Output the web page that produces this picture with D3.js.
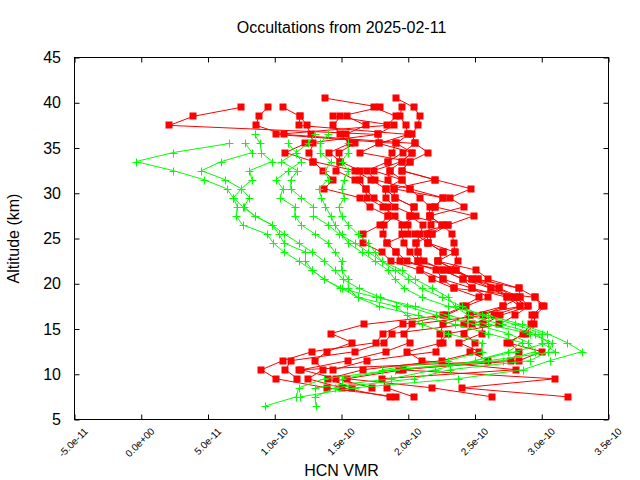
<!DOCTYPE html>
<html><head><meta charset="utf-8">
<script src="https://cdn.jsdelivr.net/npm/d3@7"></script>
<style>
html,body{margin:0;padding:0;background:#fff;}
text{font-family:"Liberation Sans",Arial,sans-serif;fill:#000;}
</style></head>
<body><svg id="chart" width="640" height="480"></svg>
<script>
// ---- data (VMR in units of 1e-10) ----
const titleText = "Occultations from 2025-02-11";
const xLabelText = "HCN VMR";
const yLabelText = "Altitude (km)";
const xTickValues = [-5e-11, 0, 5e-11, 1e-10, 1.5e-10, 2e-10, 2.5e-10, 3e-10, 3.5e-10];
const xTickLabels = ["-5.0e-11","0.0e+00","5.0e-11","1.0e-10","1.5e-10","2.0e-10","2.5e-10","3.0e-10","3.5e-10"];
const yTickValues = [5,10,15,20,25,30,35,40,45];
const yTickLabels = ["5","10","15","20","25","30","35","40","45"];
const unit = 1e-10;

const redAlt = [7.5,8.5,9.5,10.5,11.5,12.5,13.5,14.5,15.5,16.5,17.5,18.5,19.5,20.5,21.5,22.5,23.5,24.5,25.5,26.5,27.5,28.5,29.5,30.5,31.5,32.5,33.5,34.5,35.5,36.5,37.5,38.5,39.5,40.5];
const red0 = [1.86,1.50,1.25,1.36,1.30,1.39,1.58,1.42,1.67,2.26,2.41,2.53,2.34,2.18,2.09,1.87,1.80,1.66,1.66,1.79,1.85,1.71,1.64,1.37,1.44,1.36,1.29,1.08,1.23,1.77,0.21,0.39,0.75,null];
const red1 = [3.20,2.40,3.10,1.93,2.83,3.00,2.74,2.88,2.94,2.95,3.02,2.95,2.83,2.60,2.51,2.22,2.35,2.34,2.33,2.25,2.16,2.42,2.31,2.47,2.20,1.95,2.01,2.15,2.05,2.03,2.07,2.09,2.04,1.91];
const red2 = [2.04,1.84,1.80,2.81,2.10,1.99,2.26,2.24,2.26,2.46,2.71,2.74,2.48,2.41,2.26,2.12,2.07,2.06,2.09,2.11,2.01,2.04,1.90,1.89,1.85,1.86,1.85,1.88,1.91,1.01,1.84,1.91,1.74,null];
const red3 = [2.63,2.18,1.54,1.96,2.60,2.46,2.50,2.42,2.48,2.64,2.84,2.79,2.62,2.48,2.36,2.22,2.26,2.15,2.18,2.25,2.16,2.20,2.26,2.01,1.95,1.74,1.95,2.03,1.78,2.00,1.98,1.94,1.95,null];
const red4 = [1.91,1.39,1.01,0.90,1.06,1.28,1.76,1.81,1.96,2.28,2.43,2.60,2.48,2.26,2.21,1.99,1.91,1.84,1.81,1.82,1.90,1.81,1.69,1.68,1.60,1.46,1.49,1.41,1.56,1.49,1.44,1.49,1.79,1.38];
const red5 = [null,1.73,1.46,1.20,1.55,1.83,2.01,1.97,2.03,2.56,2.71,2.84,2.68,2.52,2.31,2.07,2.01,1.97,1.95,1.95,2.06,1.90,1.83,1.83,1.72,1.60,1.29,1.26,1.29,1.27,1.24,1.19,1.06,null];
const red6 = [null,1.58,1.40,1.66,2.25,2.53,2.38,2.55,2.56,2.69,2.90,2.79,2.68,2.48,2.36,2.22,2.26,2.15,2.14,2.17,2.16,2.16,2.09,2.01,1.75,1.69,1.85,1.96,2.05,1.07,0.86,0.88,0.95,null];
const red7 = [null,null,1.17,1.08,1.12,1.60,1.82,1.88,2.42,2.46,2.84,2.74,2.62,2.41,2.26,1.94,1.91,1.84,2.00,2.00,1.85,1.85,1.74,1.68,1.64,1.64,1.49,1.48,1.60,1.53,1.68,1.54,null,null];
const red8 = [null,null,null,1.44,1.69,2.21,2.24,2.30,2.68,2.80,2.90,2.84,2.83,2.52,2.31,2.37,2.35,2.15,2.05,2.30,2.49,2.20,2.26,1.89,2.20,1.95,2.01,1.64,1.78,1.77,1.89,1.44,null,null];
const red9 = [null,null,null,1.18,2.77,2.83,2.76,2.86,2.92,2.93,3.00,2.95,2.34,2.26,2.09,2.07,2.07,2.06,2.18,2.30,2.01,2.04,1.90,1.83,1.95,1.86,1.95,2.03,1.91,2.00,1.18,1.19,null,null];
const redProfiles = [red0,red1,red2,red3,red4,red5,red6,red7,red8,red9];

const greenAlt = [6.5,7.5,8.5,9.5,10.5,11.5,12.5,13.5,14.5,15.5,16.5,17.5,18.5,19.5,20.5,21.5,22.5,23.5,24.5,25.5,26.5,27.5,28.5,29.5,30.5,31.5,32.5,33.5,34.5,35.5,36.5];
const green0 = [0.93,1.16,1.18,1.37,1.90,2.71,2.95,2.90,2.75,2.50,2.21,1.99,1.79,1.63,1.51,1.45,1.37,1.28,1.18,1.07,0.98,0.85,0.77,0.81,0.75,0.83,0.81,0.98,0.90,0.89,0.85];
const green1 = [1.31,1.30,1.45,2.04,2.31,2.91,3.05,3.08,2.91,2.60,2.30,2.05,1.76,1.49,1.37,1.28,1.18,1.07,0.99,0.94,0.76,0.71,0.72,0.69,0.64,0.47,0.24,-0.04,0.24,0.66,null];
const green2 = [null,1.19,1.60,2.37,2.86,3.06,3.30,3.19,3.04,2.85,2.60,2.30,2.10,1.97,1.90,1.85,1.75,1.65,1.55,1.50,1.45,1.42,1.38,1.35,1.33,1.40,1.38,1.42,1.34,1.34,1.40];
const green3 = [null,null,1.30,1.87,2.20,2.50,2.75,2.85,2.60,2.35,2.07,1.78,1.62,1.55,1.55,1.50,1.50,1.45,1.40,1.30,1.20,1.15,1.15,1.04,1.06,1.01,1.10,1.20,1.16,1.25,1.30];
const green4 = [null,null,null,1.50,1.90,2.60,3.10,3.00,3.00,2.80,2.55,2.40,2.25,2.10,2.00,1.90,1.80,1.75,1.70,1.62,1.55,1.50,1.48,1.52,1.50,1.52,1.55,1.50,1.55,1.55,null];
const green5 = [null,null,null,null,1.80,2.30,2.55,2.55,2.30,2.10,1.99,1.91,1.62,1.50,1.37,1.28,1.23,1.23,1.07,1.03,0.98,0.85,0.76,0.69,0.75,0.63,0.45,0.60,0.83,0.78,null];
const green6 = [null,null,null,null,null,2.50,2.80,3.05,2.95,2.70,2.45,2.35,2.30,2.18,2.05,1.95,1.80,1.70,1.60,1.48,1.40,1.29,1.29,1.20,1.12,1.12,1.17,1.05,1.16,1.10,null];
const greenProfiles = [green0,green1,green2,green3,green4,green5,green6];

// ---- drawing ----
const svg = d3.select("#chart");
const L = 74.5, R = 608.5, T = 57.5, B = 419.5;
const x = d3.scaleLinear().domain([xTickValues[0], xTickValues[xTickValues.length-1]]).range([L, R]);
const y = d3.scaleLinear().domain([yTickValues[0], yTickValues[yTickValues.length-1]]).range([B, T]);

function pts(alts, vals){
  const out = [];
  vals.forEach((v,i)=>{ if(v!==null) out.push([v*unit, alts[i]]); });
  return out;
}
const line = d3.line().x(d=>x(d[0])).y(d=>y(d[1]));

const plot = svg.append("g");
// red series
redProfiles.forEach(p=>{
  const d = pts(redAlt, p);
  plot.append("path").attr("d", line(d)).attr("fill","none").attr("stroke","#ff0000").attr("stroke-width",1);
  plot.selectAll(null).data(d).enter().append("rect")
    .attr("x", q=>Math.round(x(q[0]))-3.5).attr("y", q=>Math.round(y(q[1]))-3.5)
    .attr("width",7).attr("height",7).attr("fill","#ff0000");
});
// green series
greenProfiles.forEach(p=>{
  const d = pts(greenAlt, p);
  plot.append("path").attr("d", line(d)).attr("fill","none").attr("stroke","#00ff00").attr("stroke-width",1);
  plot.selectAll(null).data(d).enter().append("path")
    .attr("d", q=>{const cx=Math.round(x(q[0]))+0.5, cy=Math.round(y(q[1]))+0.5;
      return `M${cx-4},${cy}H${cx+4}M${cx},${cy-4}V${cy+4}`;})
    .attr("stroke","#00ff00").attr("stroke-width",1).attr("fill","none");
});

// axes ticks (inward, mirrored)
const tk = 5;
const axB = svg.append("g").attr("transform",`translate(0,${B})`)
  .call(d3.axisBottom(x).tickValues(xTickValues).tickSize(-tk).tickFormat(""));
const axT = svg.append("g").attr("transform",`translate(0,${T})`)
  .call(d3.axisTop(x).tickValues(xTickValues).tickSize(-tk).tickFormat(""));
const axL = svg.append("g").attr("transform",`translate(${L},0)`)
  .call(d3.axisLeft(y).tickValues(yTickValues).tickSize(-tk).tickFormat(""));
const axR = svg.append("g").attr("transform",`translate(${R},0)`)
  .call(d3.axisRight(y).tickValues(yTickValues).tickSize(-tk).tickFormat(""));
[axB,axT,axL,axR].forEach(a=>{ a.select(".domain").remove(); a.selectAll("line").attr("stroke","#000"); });

// frame
svg.append("rect").attr("x",L).attr("y",T).attr("width",R-L).attr("height",B-T)
  .attr("fill","none").attr("stroke","#000").attr("stroke-width",1);

// tick labels
svg.append("g").selectAll("text").data(xTickValues).enter().append("text")
  .attr("transform",(d)=>`translate(${x(d)+14},432) rotate(-45)`)
  .attr("text-anchor","end").attr("font-size",10)
  .text((d,i)=>xTickLabels[i]);
svg.append("g").selectAll("text").data(yTickValues).enter().append("text")
  .attr("x",61).attr("y",d=>y(d)).attr("dy","0.35em")
  .attr("text-anchor","end").attr("font-size",16)
  .text((d,i)=>yTickLabels[i]);

// titles
svg.append("text").attr("x",(L+R)/2).attr("y",33).attr("text-anchor","middle").attr("font-size",16).text(titleText);
svg.append("text").attr("x",(L+R)/2).attr("y",476).attr("text-anchor","middle").attr("font-size",16).text(xLabelText);
svg.append("text").attr("transform",`translate(19,${(T+B)/2}) rotate(-90)`).attr("text-anchor","middle").attr("font-size",16).text(yLabelText);
</script></body></html>
